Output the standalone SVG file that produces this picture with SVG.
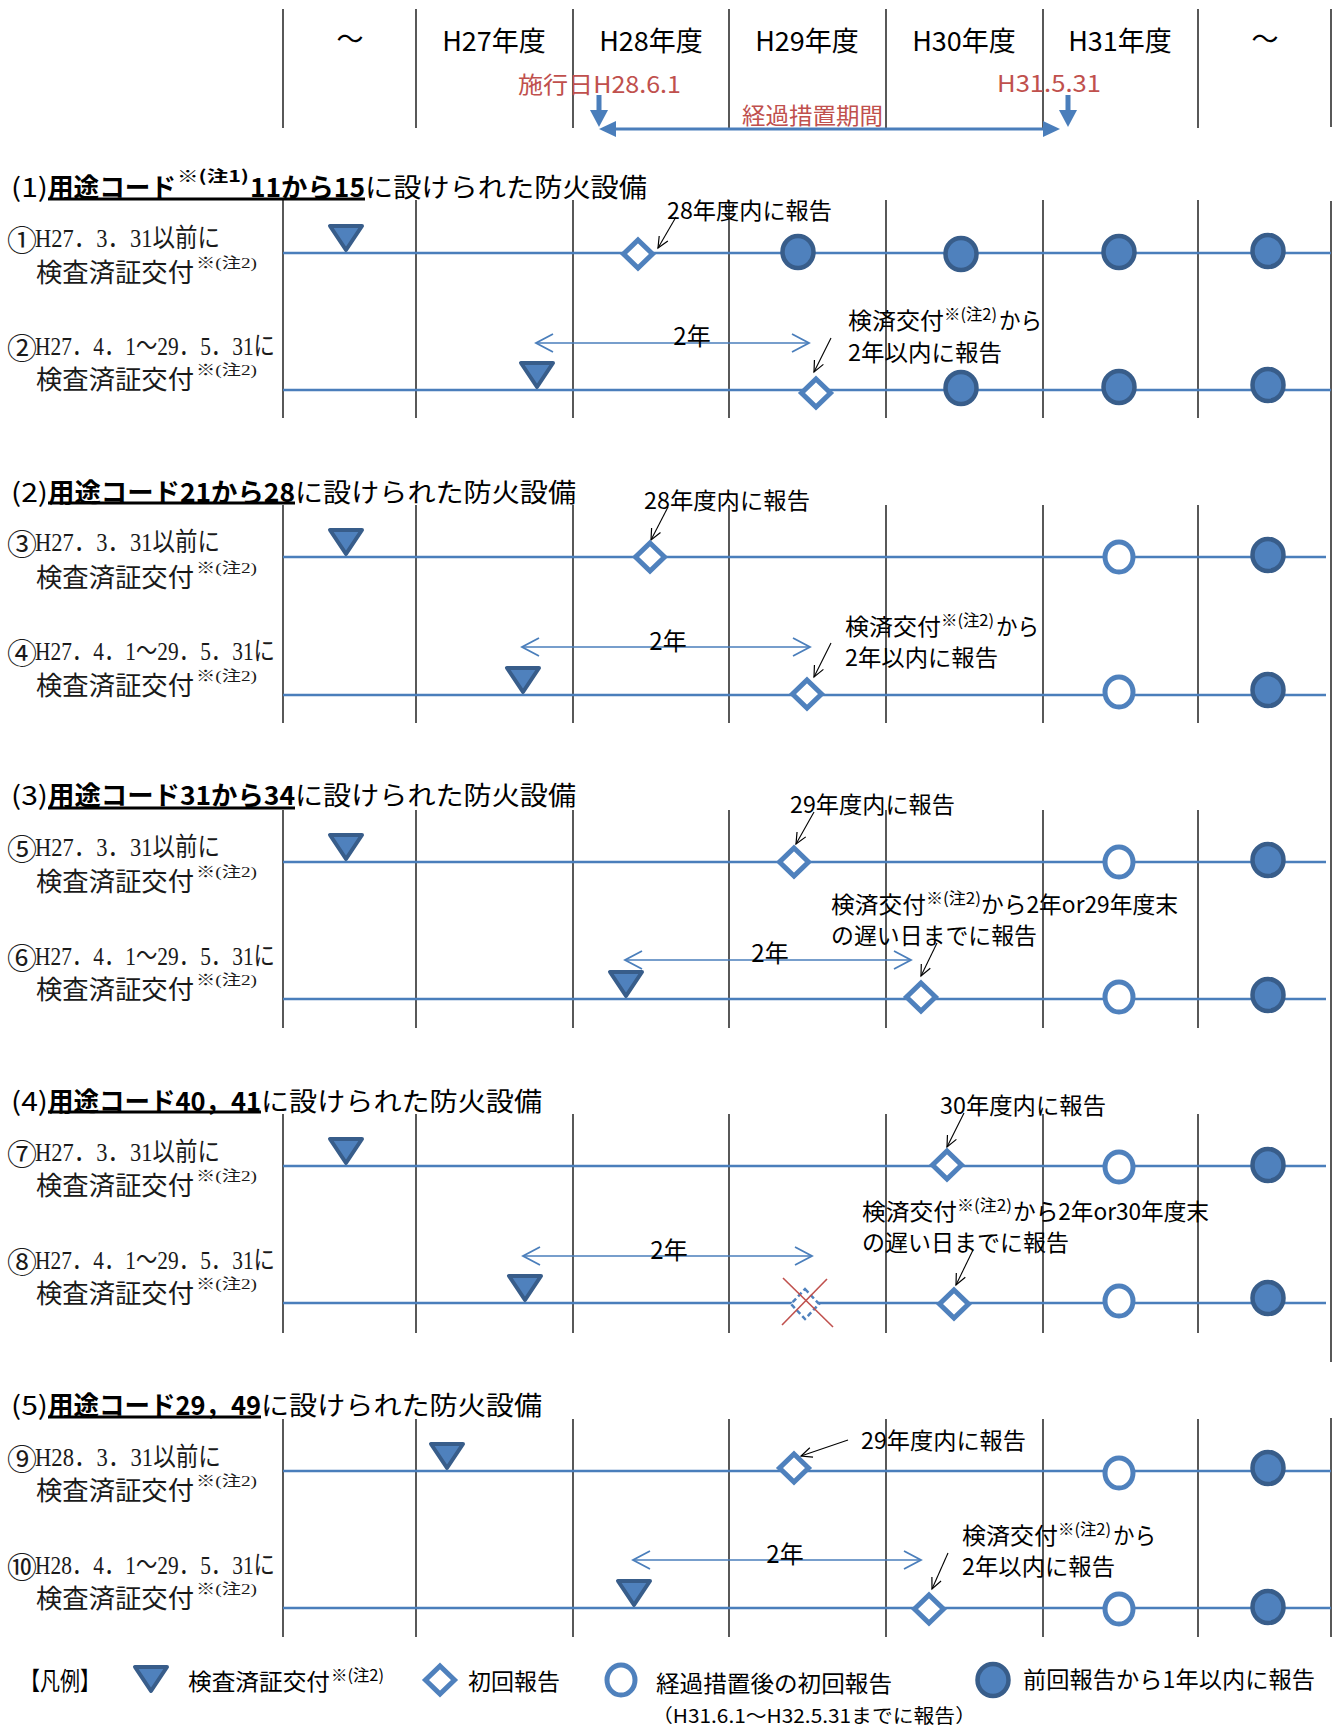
<svg xmlns="http://www.w3.org/2000/svg" xmlns:xlink="http://www.w3.org/1999/xlink" width="1341" height="1727" viewBox="0 0 1341 1727">
<style>
.grid{stroke:#000;stroke-width:1.3;fill:none}
.row{stroke:#4A7EBB;stroke-width:2.5}
.tri{fill:#4F81BD;stroke:#385D8A;stroke-width:4;stroke-linejoin:round}
.dia{fill:#fff;stroke:#4F81BD;stroke-width:5}
.fc{fill:#4F81BD;stroke:#385D8A;stroke-width:4.5}
.oc{fill:#fff;stroke:#4F81BD;stroke-width:5}
.t{font-family:"Noto Sans CJK JP","Noto Sans",sans-serif;dominant-baseline:central;fill:#000}
.hd{font-size:27px}
.red{font-size:23px;fill:#C0504D}
.ti{font-size:26px}
.b{font-weight:700}
.sup{font-size:16px}
.an{font-size:23px}
.yr{font-size:24px}
.lb{font-family:"Liberation Serif","Noto Sans CJK JP",serif;font-size:26px;dominant-baseline:central;fill:#1a1a1a}
.cn{font-family:"Noto Sans CJK JP",sans-serif;font-size:30px;dominant-baseline:central;fill:#1a1a1a}
.lbs{font-family:"Liberation Serif","Noto Sans CJK JP",serif;font-size:15px;dominant-baseline:central;fill:#1a1a1a}
.ul{stroke:#000;stroke-width:3}
.ann{stroke:#000;stroke-width:1.1;fill:none;marker-end:url(#ah)}
.two{stroke:#4A7EBB;stroke-width:1.6;fill:none;marker-start:url(#yh);marker-end:url(#yh)}
.blue{fill:#4A7EBB}
</style>
<defs>
<polygon id="tri" class="tri" points="-16,-27 16,-27 0,-3"/>
<polygon id="dia" class="dia" points="0,-14 14.5,0 0,14 -14.5,0"/>
<ellipse id="fc" class="fc" rx="15.5" ry="16"/>
<ellipse id="oc" class="oc" rx="14" ry="15"/>
<marker id="ah" markerUnits="userSpaceOnUse" markerWidth="16" markerHeight="16" viewBox="-14 -8 16 16" refX="0" refY="0" orient="auto"><path d="M-11,-5 L0,0 L-11,5" fill="none" stroke="#000" stroke-width="1.2"/></marker>
<marker id="yh" markerUnits="userSpaceOnUse" markerWidth="24" markerHeight="24" viewBox="-20 -12 24 24" refX="0" refY="0" orient="auto-start-reverse"><path d="M-17,-9 L0,0 L-17,9" fill="none" stroke="#4A7EBB" stroke-width="1.8"/></marker>
</defs>

<g id="grid">
<path class="grid" d="M283,9V128M416,9V128M573,9V128M729,9V128M886,9V128M1043,9V128M1198,9V128M1331,9V127"/>
<path class="grid" d="M283,200V418M416,200V418M573,200V418M729,200V418M886,200V418M1043,200V418M1198,200V418"/>
<path class="grid" d="M283,505V723M416,505V723M573,505V723M729,505V723M886,505V723M1043,505V723M1198,505V723"/>
<path class="grid" d="M283,810V1028M416,810V1028M573,810V1028M729,810V1028M886,810V1028M1043,810V1028M1198,810V1028"/>
<path class="grid" d="M283,1114V1333M416,1114V1333M573,1114V1333M729,1114V1333M886,1114V1333M1043,1114V1333M1198,1114V1333"/>
<path class="grid" d="M283,1419V1637M416,1419V1637M573,1419V1637M729,1419V1637M886,1419V1637M1043,1419V1637M1198,1419V1637"/>
<path class="grid" d="M1331,201V1362M1331,1418V1637"/>
</g>

<g id="header">
<text class="t hd" x="350" y="37" text-anchor="middle">～</text>
<text class="t hd" x="494" y="39" text-anchor="middle">H27年度</text>
<text class="t hd" x="651" y="39" text-anchor="middle">H28年度</text>
<text class="t hd" x="807" y="39" text-anchor="middle">H29年度</text>
<text class="t hd" x="964" y="39" text-anchor="middle">H30年度</text>
<text class="t hd" x="1120" y="39" text-anchor="middle">H31年度</text>
<text class="t hd" x="1265" y="37" text-anchor="middle">～</text>
</g>

<g id="period">
<text class="t red" x="518" y="83" textLength="163" lengthAdjust="spacingAndGlyphs">施行日H28.6.1</text>
<text class="t red" x="997" y="82" textLength="104" lengthAdjust="spacingAndGlyphs">H31.5.31</text>
<text class="t red" x="742" y="114" textLength="141" lengthAdjust="spacingAndGlyphs">経過措置期間</text>
</g>

<g id="titles">
<g id="title1">
<text class="t ti" x="11" y="185" textLength="37" lengthAdjust="spacingAndGlyphs">(1)</text>
<text class="t ti b" x="48" y="185" textLength="128" lengthAdjust="spacingAndGlyphs">用途コード</text>
<text class="t sup b" x="177" y="175" textLength="72" lengthAdjust="spacingAndGlyphs">※(注1)</text>
<text class="t ti b" x="250" y="185" textLength="115" lengthAdjust="spacingAndGlyphs">11から15</text>
<text class="t ti" x="365" y="185" textLength="282" lengthAdjust="spacingAndGlyphs">に設けられた防火設備</text>
<line class="ul" x1="48" y1="199" x2="365" y2="199"/>
</g>
<g id="title2">
<text class="t ti" x="11" y="490" textLength="37" lengthAdjust="spacingAndGlyphs">(2)</text>
<text class="t ti b" x="48" y="490" textLength="247" lengthAdjust="spacingAndGlyphs">用途コード21から28</text>
<text class="t ti" x="295" y="490" textLength="281" lengthAdjust="spacingAndGlyphs">に設けられた防火設備</text>
<line class="ul" x1="48" y1="503" x2="295" y2="503"/>
</g>
<g id="title3">
<text class="t ti" x="11" y="793" textLength="37" lengthAdjust="spacingAndGlyphs">(3)</text>
<text class="t ti b" x="48" y="793" textLength="247" lengthAdjust="spacingAndGlyphs">用途コード31から34</text>
<text class="t ti" x="295" y="793" textLength="281" lengthAdjust="spacingAndGlyphs">に設けられた防火設備</text>
<line class="ul" x1="48" y1="808" x2="295" y2="808"/>
</g>
<g id="title4">
<text class="t ti" x="11" y="1099" textLength="37" lengthAdjust="spacingAndGlyphs">(4)</text>
<text class="t ti b" x="48" y="1099" textLength="213" lengthAdjust="spacingAndGlyphs">用途コード40，41</text>
<text class="t ti" x="261" y="1099" textLength="281" lengthAdjust="spacingAndGlyphs">に設けられた防火設備</text>
<line class="ul" x1="48" y1="1112" x2="261" y2="1112"/>
</g>
<g id="title5">
<text class="t ti" x="11" y="1403" textLength="37" lengthAdjust="spacingAndGlyphs">(5)</text>
<text class="t ti b" x="48" y="1403" textLength="213" lengthAdjust="spacingAndGlyphs">用途コード29，49</text>
<text class="t ti" x="261" y="1403" textLength="281" lengthAdjust="spacingAndGlyphs">に設けられた防火設備</text>
<line class="ul" x1="48" y1="1417" x2="261" y2="1417"/>
</g>
</g>

<g id="rowlines">
<line class="row" x1="283" y1="253" x2="1331" y2="253"/>
<line class="row" x1="283" y1="390" x2="1331" y2="390"/>
<line class="row" x1="283" y1="557" x2="1326" y2="557"/>
<line class="row" x1="283" y1="695" x2="1326" y2="695"/>
<line class="row" x1="283" y1="862" x2="1326" y2="862"/>
<line class="row" x1="283" y1="999" x2="1326" y2="999"/>
<line class="row" x1="283" y1="1166" x2="1326" y2="1166"/>
<line class="row" x1="283" y1="1303" x2="1326" y2="1303"/>
<line class="row" x1="283" y1="1471" x2="1331" y2="1471"/>
<line class="row" x1="283" y1="1608" x2="1331" y2="1608"/>
</g>

<g id="connectors">
<path class="blue" d="M615,127.5H1044V130.5H615Z"/>
<polygon class="blue" points="599,129 616,121 616,137"/>
<polygon class="blue" points="1060,129 1043,121 1043,137"/>
<rect class="blue" x="596.5" y="95" width="5" height="16"/>
<polygon class="blue" points="590,110 608,110 599,127"/>
<rect class="blue" x="1065.5" y="95" width="5" height="16"/>
<polygon class="blue" points="1059,110 1077,110 1068,127"/>
<line class="two" x1="536" y1="343" x2="809" y2="343"/>
<line class="two" x1="522" y1="647" x2="810" y2="647"/>
<line class="two" x1="625" y1="960" x2="911" y2="960"/>
<line class="two" x1="523" y1="1256" x2="812" y2="1256"/>
<line class="two" x1="633" y1="1560" x2="921" y2="1560"/>
<line class="ann" x1="676" y1="217" x2="658" y2="248"/>
<line class="ann" x1="831" y1="338" x2="814" y2="372"/>
<line class="ann" x1="668" y1="507" x2="651" y2="540"/>
<line class="ann" x1="831" y1="643" x2="814" y2="677"/>
<line class="ann" x1="814" y1="812" x2="796" y2="844"/>
<line class="ann" x1="937" y1="943" x2="921" y2="976"/>
<line class="ann" x1="964" y1="1113" x2="947" y2="1147"/>
<line class="ann" x1="973" y1="1250" x2="956" y2="1285"/>
<line class="ann" x1="848" y1="1440" x2="801" y2="1456"/>
<line class="ann" x1="948" y1="1553" x2="932" y2="1589"/>
</g>

<g id="r1">
<text class="cn" x="7" y="238">①</text>
<text class="lb" x="35" y="238" textLength="185" lengthAdjust="spacingAndGlyphs">H27．3．31以前に</text>
<text class="lb" x="36" y="273" textLength="158" lengthAdjust="spacingAndGlyphs">検査済証交付</text>
<text class="lbs" x="196" y="263" textLength="61" lengthAdjust="spacingAndGlyphs">※(注2)</text>
<use xlink:href="#tri" x="346" y="253"/>
<use xlink:href="#dia" x="638" y="254"/>
<use xlink:href="#fc" x="798" y="252"/>
<use xlink:href="#fc" x="961" y="254"/>
<use xlink:href="#fc" x="1119" y="252"/>
<use xlink:href="#fc" x="1268" y="251"/>
<text class="t an" x="667" y="209" textLength="165" lengthAdjust="spacingAndGlyphs">28年度内に報告</text>
</g>

<g id="r2">
<text class="cn" x="7" y="346">②</text>
<text class="lb" x="35" y="346" textLength="240" lengthAdjust="spacingAndGlyphs">H27．4．1～29．5．31に</text>
<text class="lb" x="36" y="380" textLength="158" lengthAdjust="spacingAndGlyphs">検査済証交付</text>
<text class="lbs" x="196" y="370" textLength="61" lengthAdjust="spacingAndGlyphs">※(注2)</text>
<use xlink:href="#tri" x="537" y="390"/>
<use xlink:href="#dia" x="816" y="393"/>
<use xlink:href="#fc" x="961" y="388"/>
<use xlink:href="#fc" x="1119" y="387"/>
<use xlink:href="#fc" x="1268" y="385"/>
<text class="t yr" x="692" y="334" text-anchor="middle">2年</text>
<text class="t an" x="848" y="319" textLength="96" lengthAdjust="spacingAndGlyphs">検済交付</text>
<text class="t sup" x="944" y="313" textLength="53" lengthAdjust="spacingAndGlyphs">※(注2)</text>
<text class="t an" x="999" y="319" textLength="43" lengthAdjust="spacingAndGlyphs">から</text>
<text class="t an" x="848" y="351" textLength="154" lengthAdjust="spacingAndGlyphs">2年以内に報告</text>
</g>

<g id="r3">
<text class="cn" x="7" y="542">③</text>
<text class="lb" x="35" y="542" textLength="185" lengthAdjust="spacingAndGlyphs">H27．3．31以前に</text>
<text class="lb" x="36" y="578" textLength="158" lengthAdjust="spacingAndGlyphs">検査済証交付</text>
<text class="lbs" x="196" y="568" textLength="61" lengthAdjust="spacingAndGlyphs">※(注2)</text>
<use xlink:href="#tri" x="346" y="557"/>
<use xlink:href="#dia" x="650" y="557"/>
<use xlink:href="#oc" x="1119" y="557"/>
<use xlink:href="#fc" x="1268" y="555"/>
<text class="t an" x="644" y="499" textLength="166" lengthAdjust="spacingAndGlyphs">28年度内に報告</text>
</g>

<g id="r4">
<text class="cn" x="7" y="651">④</text>
<text class="lb" x="35" y="651" textLength="240" lengthAdjust="spacingAndGlyphs">H27．4．1～29．5．31に</text>
<text class="lb" x="36" y="686" textLength="158" lengthAdjust="spacingAndGlyphs">検査済証交付</text>
<text class="lbs" x="196" y="676" textLength="61" lengthAdjust="spacingAndGlyphs">※(注2)</text>
<use xlink:href="#tri" x="523" y="695"/>
<use xlink:href="#dia" x="807" y="694"/>
<use xlink:href="#oc" x="1119" y="692"/>
<use xlink:href="#fc" x="1268" y="690"/>
<text class="t yr" x="668" y="639" text-anchor="middle">2年</text>
<text class="t an" x="845" y="625" textLength="96" lengthAdjust="spacingAndGlyphs">検済交付</text>
<text class="t sup" x="941" y="619" textLength="53" lengthAdjust="spacingAndGlyphs">※(注2)</text>
<text class="t an" x="996" y="625" textLength="43" lengthAdjust="spacingAndGlyphs">から</text>
<text class="t an" x="845" y="656" textLength="153" lengthAdjust="spacingAndGlyphs">2年以内に報告</text>
</g>

<g id="r5">
<text class="cn" x="7" y="847">⑤</text>
<text class="lb" x="35" y="847" textLength="185" lengthAdjust="spacingAndGlyphs">H27．3．31以前に</text>
<text class="lb" x="36" y="882" textLength="158" lengthAdjust="spacingAndGlyphs">検査済証交付</text>
<text class="lbs" x="196" y="872" textLength="61" lengthAdjust="spacingAndGlyphs">※(注2)</text>
<use xlink:href="#tri" x="346" y="862"/>
<use xlink:href="#dia" x="794" y="862"/>
<use xlink:href="#oc" x="1119" y="862"/>
<use xlink:href="#fc" x="1268" y="860"/>
<text class="t an" x="790" y="803" textLength="165" lengthAdjust="spacingAndGlyphs">29年度内に報告</text>
</g>

<g id="r6">
<text class="cn" x="7" y="956">⑥</text>
<text class="lb" x="35" y="956" textLength="240" lengthAdjust="spacingAndGlyphs">H27．4．1～29．5．31に</text>
<text class="lb" x="36" y="990" textLength="158" lengthAdjust="spacingAndGlyphs">検査済証交付</text>
<text class="lbs" x="196" y="980" textLength="61" lengthAdjust="spacingAndGlyphs">※(注2)</text>
<use xlink:href="#tri" x="626" y="999"/>
<use xlink:href="#dia" x="921" y="997"/>
<use xlink:href="#oc" x="1119" y="997"/>
<use xlink:href="#fc" x="1268" y="995"/>
<text class="t yr" x="770" y="951" text-anchor="middle">2年</text>
<text class="t an" x="831" y="903" textLength="95" lengthAdjust="spacingAndGlyphs">検済交付</text>
<text class="t sup" x="926" y="897" textLength="55" lengthAdjust="spacingAndGlyphs">※(注2)</text>
<text class="t an" x="981" y="903" textLength="197" lengthAdjust="spacingAndGlyphs">から2年or29年度末</text>
<text class="t an" x="831" y="934" textLength="206" lengthAdjust="spacingAndGlyphs">の遅い日までに報告</text>
</g>

<g id="r7">
<text class="cn" x="7" y="1152">⑦</text>
<text class="lb" x="35" y="1152" textLength="185" lengthAdjust="spacingAndGlyphs">H27．3．31以前に</text>
<text class="lb" x="36" y="1186" textLength="158" lengthAdjust="spacingAndGlyphs">検査済証交付</text>
<text class="lbs" x="196" y="1176" textLength="61" lengthAdjust="spacingAndGlyphs">※(注2)</text>
<use xlink:href="#tri" x="346" y="1166"/>
<use xlink:href="#dia" x="947" y="1165"/>
<use xlink:href="#oc" x="1119" y="1167"/>
<use xlink:href="#fc" x="1268" y="1165"/>
<text class="t an" x="940" y="1104" textLength="166" lengthAdjust="spacingAndGlyphs">30年度内に報告</text>
</g>

<g id="r8">
<text class="cn" x="7" y="1260">⑧</text>
<text class="lb" x="35" y="1260" textLength="240" lengthAdjust="spacingAndGlyphs">H27．4．1～29．5．31に</text>
<text class="lb" x="36" y="1294" textLength="158" lengthAdjust="spacingAndGlyphs">検査済証交付</text>
<text class="lbs" x="196" y="1284" textLength="61" lengthAdjust="spacingAndGlyphs">※(注2)</text>
<use xlink:href="#tri" x="525" y="1303"/>
<polygon points="805,1289 819,1304 805,1319 791,1304" fill="#fff" stroke="#4F81BD" stroke-width="2.5" stroke-dasharray="5,3"/>
<line x1="783" y1="1278" x2="833" y2="1327" stroke="#C0504D" stroke-width="1.6"/>
<line x1="827" y1="1279" x2="782" y2="1325" stroke="#C0504D" stroke-width="1.6"/>
<use xlink:href="#dia" x="954" y="1304"/>
<use xlink:href="#oc" x="1119" y="1301"/>
<use xlink:href="#fc" x="1268" y="1298"/>
<text class="t yr" x="669" y="1248" text-anchor="middle">2年</text>
<text class="t an" x="862" y="1210" textLength="95" lengthAdjust="spacingAndGlyphs">検済交付</text>
<text class="t sup" x="957" y="1204" textLength="55" lengthAdjust="spacingAndGlyphs">※(注2)</text>
<text class="t an" x="1013" y="1210" textLength="196" lengthAdjust="spacingAndGlyphs">から2年or30年度末</text>
<text class="t an" x="862" y="1241" textLength="207" lengthAdjust="spacingAndGlyphs">の遅い日までに報告</text>
</g>

<g id="r9">
<text class="cn" x="7" y="1457">⑨</text>
<text class="lb" x="35" y="1457" textLength="186" lengthAdjust="spacingAndGlyphs">H28．3．31以前に</text>
<text class="lb" x="36" y="1491" textLength="158" lengthAdjust="spacingAndGlyphs">検査済証交付</text>
<text class="lbs" x="196" y="1481" textLength="61" lengthAdjust="spacingAndGlyphs">※(注2)</text>
<use xlink:href="#tri" x="447" y="1471"/>
<use xlink:href="#dia" x="794" y="1468"/>
<use xlink:href="#oc" x="1119" y="1473"/>
<use xlink:href="#fc" x="1268" y="1468"/>
<text class="t an" x="861" y="1439" textLength="165" lengthAdjust="spacingAndGlyphs">29年度内に報告</text>
</g>

<g id="r10">
<text class="cn" x="7" y="1565">⑩</text>
<text class="lb" x="35" y="1565" textLength="240" lengthAdjust="spacingAndGlyphs">H28．4．1～29．5．31に</text>
<text class="lb" x="36" y="1599" textLength="158" lengthAdjust="spacingAndGlyphs">検査済証交付</text>
<text class="lbs" x="196" y="1589" textLength="61" lengthAdjust="spacingAndGlyphs">※(注2)</text>
<use xlink:href="#tri" x="634" y="1608"/>
<use xlink:href="#dia" x="929" y="1609"/>
<use xlink:href="#oc" x="1119" y="1609"/>
<use xlink:href="#fc" x="1268" y="1607"/>
<text class="t yr" x="785" y="1552" text-anchor="middle">2年</text>
<text class="t an" x="962" y="1534" textLength="96" lengthAdjust="spacingAndGlyphs">検済交付</text>
<text class="t sup" x="1058" y="1528" textLength="53" lengthAdjust="spacingAndGlyphs">※(注2)</text>
<text class="t an" x="1113" y="1534" textLength="43" lengthAdjust="spacingAndGlyphs">から</text>
<text class="t an" x="962" y="1565" textLength="153" lengthAdjust="spacingAndGlyphs">2年以内に報告</text>
</g>

<g id="legend">
<text class="t an" x="20" y="1679" textLength="80" lengthAdjust="spacingAndGlyphs" style="font-size:25px">【凡例】</text>
<use xlink:href="#tri" x="151" y="1694"/>
<text class="t an" x="188" y="1680" textLength="142" lengthAdjust="spacingAndGlyphs">検査済証交付</text>
<text class="t sup" x="331" y="1674" textLength="53" lengthAdjust="spacingAndGlyphs">※(注2)</text>
<use xlink:href="#dia" x="440" y="1680"/>
<text class="t an" x="468" y="1680" textLength="92" lengthAdjust="spacingAndGlyphs">初回報告</text>
<use xlink:href="#oc" x="621" y="1680"/>
<text class="t an" x="656" y="1682" textLength="236" lengthAdjust="spacingAndGlyphs">経過措置後の初回報告</text>
<text class="t" style="font-size:19px" x="652" y="1714" textLength="324" lengthAdjust="spacingAndGlyphs">（H31.6.1～H32.5.31までに報告）</text>
<use xlink:href="#fc" x="993" y="1680"/>
<text class="t an" x="1023" y="1678" textLength="292" lengthAdjust="spacingAndGlyphs">前回報告から1年以内に報告</text>
</g>
</svg>
